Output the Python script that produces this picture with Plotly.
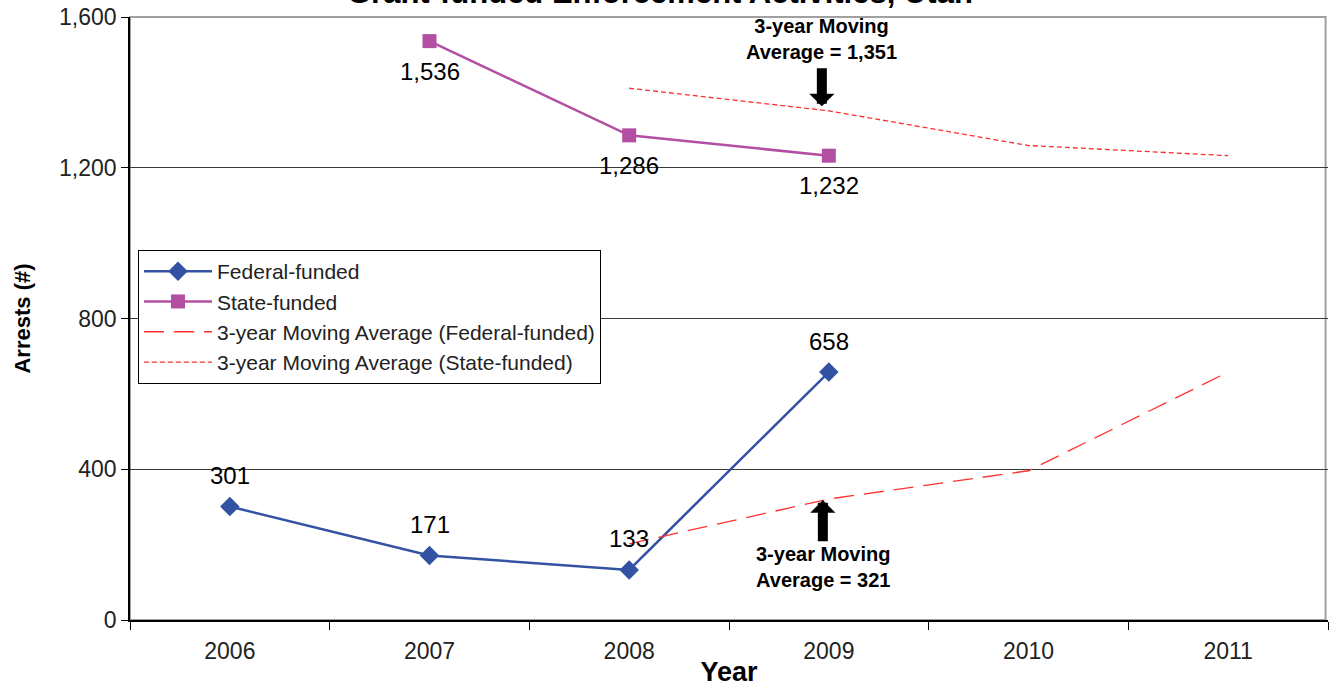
import plotly.graph_objects as go

years = ["2006", "2007", "2008", "2009", "2010", "2011"]
federal = [301, 171, 133, 658, None, None]
state = [None, 1536, 1286, 1232, None, None]
federal_ma = [None, None, 202, 321, 396, 658]
state_ma = [None, None, 1411, 1351, 1259, 1232]

title_text = "Grant-funded Enforcement Activities, Utah"
y_ticks = [0, 400, 800, 1200, 1600]

FONT = "Liberation Sans, Arial, sans-serif"

fig = go.Figure()

fig.add_trace(go.Scatter(
    x=years, y=federal, name="Federal-funded", mode="lines+markers",
    line=dict(color="#3352a3", width=2.5),
    marker=dict(symbol="diamond", size=15, color="#3352a3"),
))
fig.add_trace(go.Scatter(
    x=years, y=state, name="State-funded", mode="lines+markers",
    line=dict(color="#b34fa3", width=2.5),
    marker=dict(symbol="square", size=14, color="#b34fa3"),
))
fig.add_trace(go.Scatter(
    x=years, y=federal_ma, name="3-year Moving Average (Federal-funded)", mode="lines",
    line=dict(color="#ff3030", width=1.3, dash="20px,10px"),
))
fig.add_trace(go.Scatter(
    x=years, y=state_ma, name="3-year Moving Average (State-funded)", mode="lines",
    line=dict(color="#ff3030", width=1.3, dash="5px,3px"),
))

annotations = []
for i, v in enumerate(federal):
    if v is not None:
        annotations.append(dict(x=i, y=v, text=str(v), showarrow=False, yshift=31,
                                font=dict(family=FONT, size=24, color="black")))
for i, v in enumerate(state):
    if v is not None:
        annotations.append(dict(x=i, y=v, text=f"{v:,}", showarrow=False, yshift=-30,
                                font=dict(family=FONT, size=24, color="black")))

# moving average callouts
annotations.append(dict(
    x=2.965, y=state_ma[3] + 12, xref="x", yref="y",
    text="<b>3-year Moving<br>Average = 1,351</b>",
    showarrow=True, arrowhead=1, arrowsize=0.42, arrowwidth=10, arrowcolor="black",
    ax=0, ay=-41, standoff=0, startstandoff=3,
    font=dict(family=FONT, size=20, color="black"),
    yanchor="bottom",
))
annotations.append(dict(
    x=2.97, y=federal_ma[3] - 3, xref="x", yref="y",
    text="<b>3-year Moving<br>Average = 321</b>",
    showarrow=True, arrowhead=1, arrowsize=0.42, arrowwidth=10, arrowcolor="black",
    ax=0, ay=41, standoff=0, startstandoff=0,
    font=dict(family=FONT, size=20, color="black"),
    yanchor="top",
))
# chart title (cut off at the top edge, as in the reference)
annotations.append(dict(
    x=0.4424, y=1.040, xref="paper", yref="paper", xanchor="center", yanchor="middle",
    text=f"<b>{title_text}</b>", showarrow=False,
    font=dict(family=FONT, size=31, color="black"),
))

fig.update_layout(
    width=1330, height=687,
    margin=dict(l=130, r=2, t=17, b=67, autoexpand=False),
    paper_bgcolor="white", plot_bgcolor="white",
    font=dict(family=FONT, size=16, color="#222"),
    showlegend=True,
    legend=dict(x=0.0067, y=0.6136, xanchor="left", yanchor="top",
                bgcolor="white", bordercolor="black", borderwidth=1,
                font=dict(family=FONT, size=21, color="#222"),
                itemwidth=68, tracegroupgap=0),
    annotations=annotations,
    shapes=[dict(type="rect", xref="paper", yref="paper", x0=0, x1=0.998, y0=0, y1=1,
                 line=dict(color="#a0a0a0", width=2), layer="below")],
)

fig.update_xaxes(
    type="category", categoryorder="array", categoryarray=years,
    range=[-0.5, 5.5], tickson="boundaries", automargin=False,
    ticks="outside", ticklen=8, tickcolor="black",
    showline=True, linecolor="black", linewidth=1.5,
    showgrid=False, zeroline=False, ticklabelstandoff=10,
    tickfont=dict(family=FONT, size=23, color="#222"),
    title=dict(text="<b>Year</b>", font=dict(family=FONT, size=27, color="black"), standoff=4),
)
fig.update_yaxes(
    range=[0, 1600], tickvals=y_ticks, tickformat=",", automargin=False,
    ticks="outside", ticklen=7, tickcolor="black",
    showline=True, linecolor="black", linewidth=1.5,
    showgrid=True, gridcolor="#3a3a3a", gridwidth=1, zeroline=False,
    tickfont=dict(family=FONT, size=23, color="#222"),
    title=dict(text="<b>Arrests (#)</b>", font=dict(family=FONT, size=22, color="black"), standoff=22),
)

fig.write_html("out.html", config={"displayModeBar": False},
               post_script="document.body.style.margin='0px';")
